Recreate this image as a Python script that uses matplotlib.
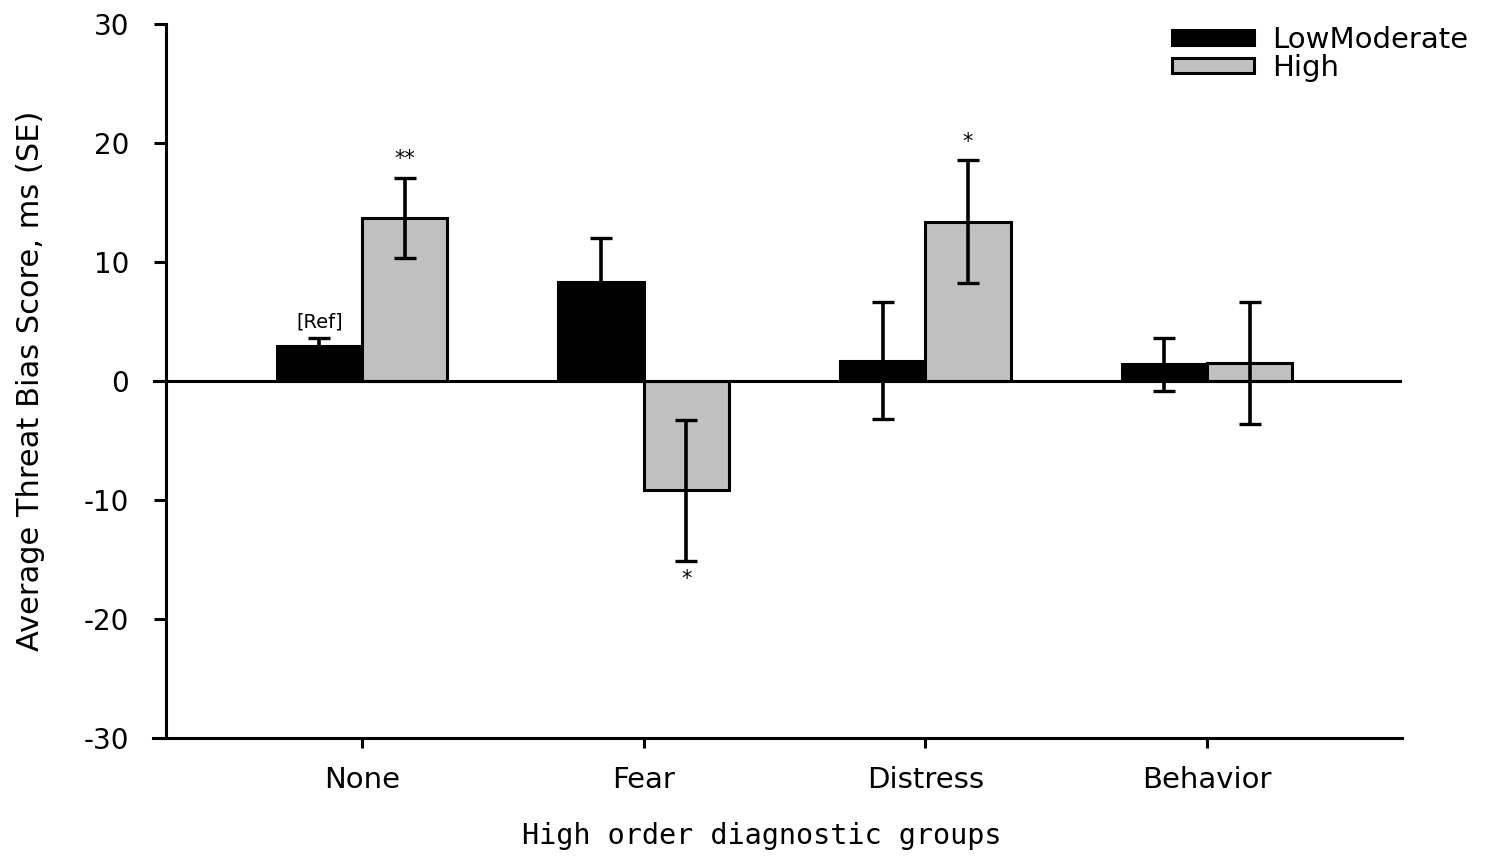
import numpy as np
import matplotlib
matplotlib.use("Agg")
import matplotlib.pyplot as plt
from matplotlib.patches import Patch

# -------------------------------
# Datos
# -------------------------------
grupos = ["None", "Fear", "Distress", "Behavior"]
low_media = [2.9, 8.3, 1.7, 1.4]
low_se = [0.7, 3.7, 4.9, 2.2]
high_media = [13.7, -9.2, 13.4, 1.5]
high_se = [3.4, 5.9, 5.2, 5.1]
etiquetas_serie = ["LowModerate", "High"]
notas_low = ["[Ref]", "", "", ""]
notas_high = ["**", "*", "*", ""]

plt.rcParams['font.family'] = ['DejaVu Sans']
plt.rcParams['axes.unicode_minus'] = False

fig = plt.figure(figsize=(14.97, 8.58), dpi=100)
ax = fig.add_axes([153 / 1497, 1 - 738 / 858, (1402 - 153) / 1497, (738 - 24) / 858])

x = np.arange(len(grupos))
ancho = 0.303
lw = 2.2

err_kw = dict(ecolor="black", elinewidth=2.6, capsize=8, capthick=2.4)
ax.bar(x - ancho / 2, low_media, ancho, yerr=low_se, color="black",
       edgecolor="black", linewidth=lw, error_kw=err_kw, zorder=2)
ax.bar(x + ancho / 2, high_media, ancho, yerr=high_se, color="#c0c0c0",
       edgecolor="black", linewidth=lw, error_kw=err_kw, zorder=2)

ax.axhline(0, color="black", linewidth=lw, zorder=3)

# notas sobre las barras
for i in range(len(grupos)):
    if notas_low[i]:
        ax.annotate(notas_low[i], (x[i] - ancho / 2, low_media[i] + low_se[i]),
                    xytext=(0, 11.5), textcoords="offset points", ha="center",
                    va="center", fontsize=14)
    if notas_high[i]:
        if high_media[i] >= 0:
            y = high_media[i] + high_se[i]
            dy = 13
        else:
            y = high_media[i] - high_se[i]
            dy = -13
        ax.annotate(notas_high[i], (x[i] + ancho / 2, y), xytext=(0, dy),
                    textcoords="offset points", ha="center", va="center",
                    fontsize=15)

ax.set_xlim(-0.742, 3.692)
ax.set_ylim(-30, 30)
ax.set_yticks([-30, -20, -10, 0, 10, 20, 30])
ax.set_xticks(x)
ax.set_xticklabels(grupos)

ax.spines["top"].set_visible(False)
ax.spines["right"].set_visible(False)
ax.spines["left"].set_position(("data", -0.696))
ax.spines["left"].set_linewidth(lw)
ax.spines["bottom"].set_linewidth(lw)

ax.tick_params(axis="y", length=8.6, width=lw, pad=18, labelsize=20)
ax.tick_params(axis="x", length=7.2, width=lw, pad=13, labelsize=21)

ax.set_xlabel("High order diagnostic groups", fontsize=20.5,
              family="DejaVu Sans Mono")
ax.xaxis.set_label_coords(0.487, -0.117)
ax.set_ylabel("Average Threat Bias Score, ms (SE)", fontsize=22)
ax.yaxis.set_label_coords(-0.0865, 0.5)

handles = [Patch(facecolor="black", edgecolor="black", linewidth=lw),
           Patch(facecolor="#c0c0c0", edgecolor="black", linewidth=lw)]
ax.legend(handles, etiquetas_serie, loc="upper right", bbox_to_anchor=(1.062, 1.014),
          frameon=False, fontsize=21, handlelength=2.8, handleheight=0.4,
          labelspacing=0.0, handletextpad=0.6, borderaxespad=0)

fig.savefig("out.png", dpi=100)
